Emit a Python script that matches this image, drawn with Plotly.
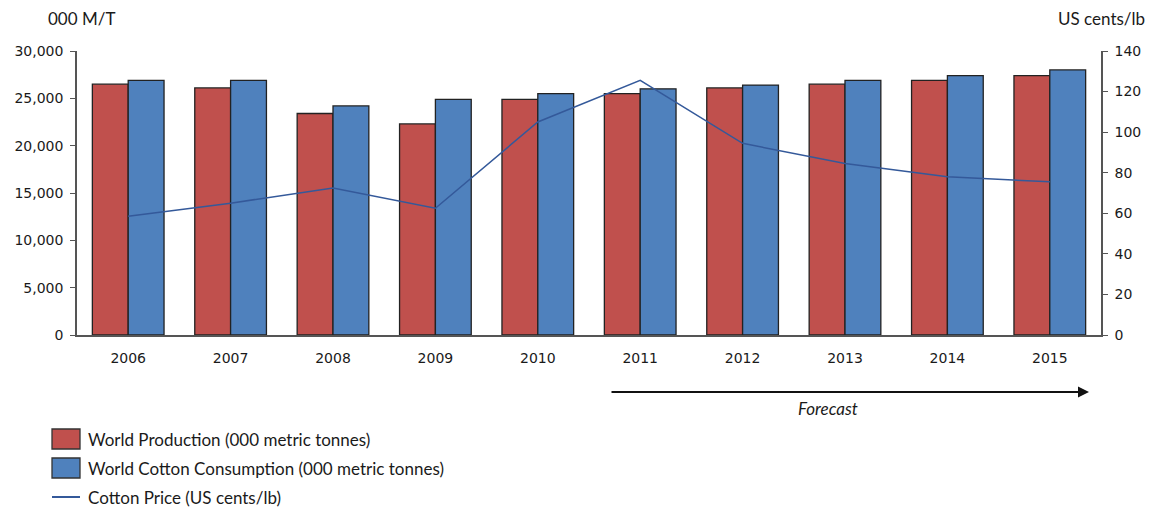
import plotly.graph_objects as go

years = ["2006", "2007", "2008", "2009", "2010", "2011", "2012", "2013", "2014", "2015"]
production = [26500, 26100, 23400, 22300, 24900, 25500, 26100, 26500, 26900, 27400]
consumption = [26900, 26900, 24200, 24900, 25500, 26000, 26400, 26900, 27400, 28000]
price = [58.5, 65, 72.5, 62.5, 105, 125.5, 94.5, 84.5, 78, 75.5]
series_names = ["World Production (000 metric tonnes)",
                "World Cotton Consumption (000 metric tonnes)",
                "Cotton Price (US cents/lb)"]

RED = "#C0504D"
BLUE = "#4F81BD"
LINE = "#34599A"
TXT = "#1a1a1a"
TICKFONT = dict(family="DejaVu Sans", size=14, color=TXT)
LABFONT = dict(family="Lato", size=17, color=TXT)

W, H = 1153, 510
L, R, T, B = 77, 52, 51, 175
PW, PH = W - L - R, H - T - B


def px(x):
    return (x - L) / PW


def py(y):
    return (H - B - y) / PH


fig = go.Figure()
fig.add_trace(go.Bar(
    x=years, y=production, name=series_names[0],
    marker=dict(color=RED, line=dict(color="#222222", width=1.3)),
))
fig.add_trace(go.Bar(
    x=years, y=consumption, name=series_names[1],
    marker=dict(color=BLUE, line=dict(color="#222222", width=1.3)),
))
fig.add_trace(go.Scatter(
    x=years, y=price, name=series_names[2], yaxis="y2",
    mode="lines", line=dict(color=LINE, width=1.5),
))

# manual legend
shapes = [
    dict(type="rect", xref="paper", yref="paper", x0=px(52), x1=px(80), y0=py(449), y1=py(429),
         fillcolor=RED, line=dict(color="#333333", width=1.3)),
    dict(type="rect", xref="paper", yref="paper", x0=px(52), x1=px(80), y0=py(478), y1=py(458),
         fillcolor=BLUE, line=dict(color="#333333", width=1.3)),
    dict(type="line", xref="paper", yref="paper", x0=px(52), x1=px(80), y0=py(497), y1=py(497),
         line=dict(color=LINE, width=2)),
]
annotations = []
for name, yy in zip(series_names, [439, 468, 497]):
    annotations.append(dict(text=name, xref="paper", yref="paper", x=px(86), y=py(yy),
                            xanchor="left", yanchor="middle", showarrow=False, font=LABFONT))

annotations += [
    dict(text="000 M/T", xref="paper", yref="paper", x=px(46), y=py(18),
         xanchor="left", yanchor="middle", showarrow=False, font=LABFONT),
    dict(text="US cents/lb", xref="paper", yref="paper", x=px(1147), y=py(18),
         xanchor="right", yanchor="middle", showarrow=False, font=LABFONT),
    dict(text="", xref="paper", yref="paper", x=px(1089), y=py(392),
         ax=-479, ay=0, axref="pixel", ayref="pixel",
         showarrow=True, arrowhead=2, arrowsize=1, arrowwidth=2.2,
         arrowcolor="#111111"),
    dict(text="<i>Forecast</i>", xref="paper", yref="paper", x=px(828), y=py(408),
         xanchor="center", yanchor="middle", showarrow=False, font=LABFONT),
]

fig.update_layout(
    width=W, height=H,
    margin=dict(l=L, r=R, t=T, b=B, autoexpand=False),
    paper_bgcolor="white", plot_bgcolor="white",
    barmode="group", bargap=0.3, bargroupgap=0,
    showlegend=False,
    xaxis=dict(
        type="category", showline=True, linecolor="#555555", linewidth=1.5,
        ticks="", tickfont=TICKFONT, showgrid=False, ticklabelstandoff=9,
    ),
    yaxis=dict(
        range=[0, 30000], tickvals=[0, 5000, 10000, 15000, 20000, 25000, 30000],
        tickformat=",d", showline=True, linecolor="#555555", linewidth=1.5,
        ticks="outside", ticklen=5, tickcolor="#555555", tickfont=TICKFONT,
        showgrid=False, zeroline=False, ticklabelstandoff=4,
    ),
    yaxis2=dict(
        range=[0, 140], tickvals=[0, 20, 40, 60, 80, 100, 120, 140],
        overlaying="y", side="right", showline=True, linecolor="#555555", linewidth=1.5,
        ticks="outside", ticklen=5, tickcolor="#555555", tickfont=TICKFONT,
        showgrid=False, zeroline=False, ticklabelstandoff=4,
    ),
    shapes=shapes,
    annotations=annotations,
)

fig.write_html("out.html")
